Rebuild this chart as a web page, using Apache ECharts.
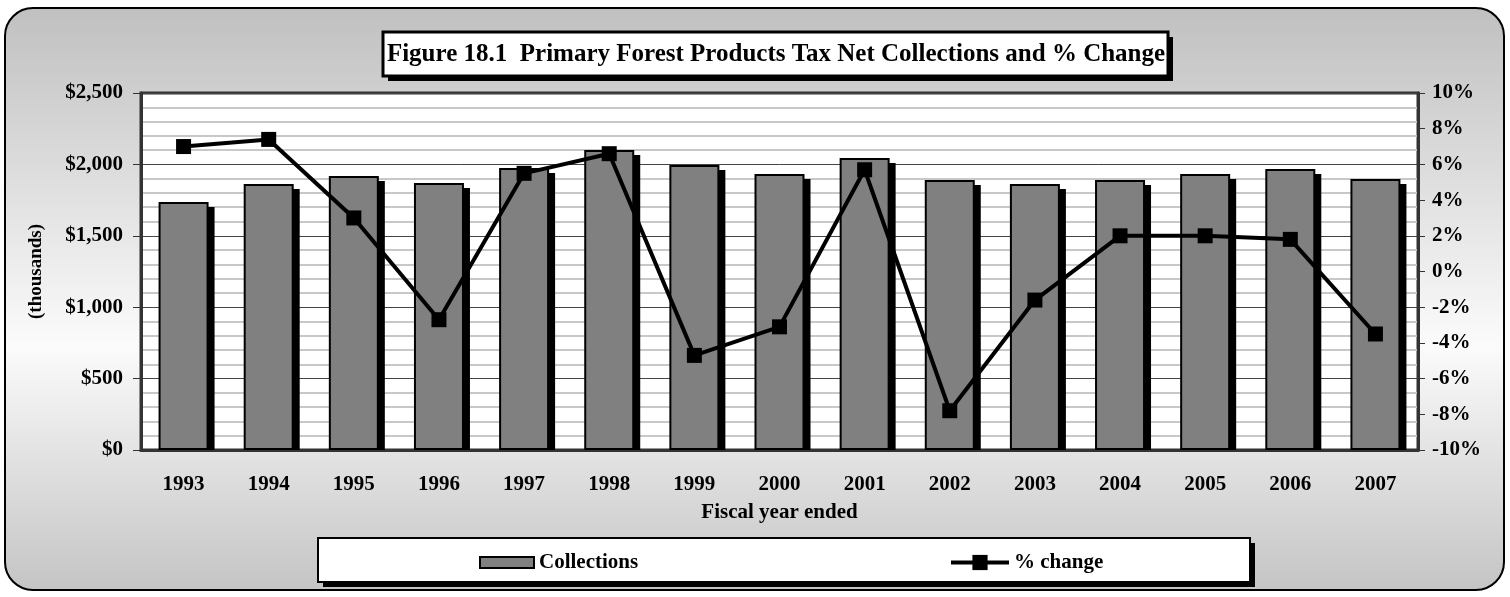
<!DOCTYPE html>
<html>
<head>
<meta charset="utf-8">
<script src="https://cdn.jsdelivr.net/npm/echarts@6/dist/echarts.min.js"></script>
<style>
  html, body { margin: 0; padding: 0; background: #fff; }
  #chart { width: 1510px; height: 597px; }
</style>
</head>
<body>
<div id="chart"></div>
<script>
// data
const years = ['1993', '1994', '1995', '1996', '1997', '1998', '1999', '2000',
  '2001', '2002', '2003', '2004', '2005', '2006', '2007'];
const collections = [1737, 1863, 1919, 1870, 1975, 2100, 1996, 1933,
  2045, 1891, 1863, 1891, 1933, 1968, 1898];
const pctChange = [7.0, 7.4, 3.0, -2.7, 5.5, 6.6, -4.7, -3.1,
  5.7, -7.8, -1.6, 2.0, 2.0, 1.8, -3.5];

const FONT = 'Liberation Serif';
const BAR_W = 50;
const chart = echarts.init(document.getElementById('chart'));

const boxWithShadow = (x, y, w, h, lw) => ([
  { type: 'rect', z: -5, shape: { x: x + 5, y: y + 5, width: w, height: h }, style: { fill: '#000' } },
  { type: 'rect', z: -4, shape: { x: x, y: y, width: w, height: h }, style: { fill: '#fff', stroke: '#000', lineWidth: lw } }
]);

const labelFont = { fontFamily: FONT, fontWeight: 'bold', fontSize: 21, color: '#000' };

chart.setOption({
  animation: false,
  graphic: [
    {
      type: 'rect', z: -10,
      shape: { x: 5, y: 8, width: 1499, height: 582, r: 28 },
      style: {
        stroke: '#000', lineWidth: 2,
        fill: new echarts.graphic.LinearGradient(0, 0, 0, 1, [
          { offset: 0, color: '#c0c0c0' },
          { offset: 0.58, color: '#fbfbfb' },
          { offset: 1, color: '#c4c4c4' }
        ])
      }
    },
    ...boxWithShadow(383, 32, 785, 44, 3),
    {
      type: 'text', z: -3, x: 776, y: 55,
      style: {
        text: 'Figure 18.1  Primary Forest Products Tax Net Collections and % Change',
        font: 'bold 25px "Liberation Serif"', fill: '#000', align: 'center', verticalAlign: 'middle'
      }
    },
    ...boxWithShadow(318, 538, 932, 44, 2)
  ],
  legend: [
    {
      data: [{ name: 'Collections', icon: 'rect', itemStyle: { borderColor: '#000', borderWidth: 2 } }],
      left: 474, top: 547, itemWidth: 54, itemHeight: 11, itemGap: 6,
      textStyle: labelFont
    },
    {
      data: ['% change'], left: 944, top: 547, itemWidth: 58, itemHeight: 19,
      lineStyle: { width: 4 },
      textStyle: labelFont
    }
  ],
  grid: {
    left: 141, top: 93, width: 1277, height: 357,
    show: true, backgroundColor: '#fff', borderColor: '#333', borderWidth: 3
  },
  xAxis: {
    type: 'category', data: years,
    name: 'Fiscal year ended', nameLocation: 'middle', nameGap: 52,
    nameTextStyle: labelFont,
    axisLine: { lineStyle: { color: '#333', width: 3 } },
    axisTick: { length: 7, lineStyle: { color: '#333' } },
    axisLabel: Object.assign({ margin: 24 }, labelFont)
  },
  yAxis: [
    {
      type: 'value', min: 0, max: 2500, interval: 500,
      name: '(thousands)', nameLocation: 'middle', nameGap: 95, nameRotate: 90,
      nameTextStyle: Object.assign({}, labelFont, { fontSize: 19 }),
      axisLine: { show: true, lineStyle: { color: '#333', width: 3 } },
      axisTick: { show: true, length: 8, lineStyle: { color: '#333' } },
      axisLabel: Object.assign({ margin: 18, formatter: v => '$' + v.toLocaleString('en-US') }, labelFont),
      splitLine: { show: true, lineStyle: { color: '#444', width: 1 } },
      minorTick: { show: false, splitNumber: 5 },
      minorSplitLine: { show: true, lineStyle: { color: '#c8c8c8', width: 2 } }
    },
    {
      type: 'value', min: -10, max: 10, interval: 2,
      axisLine: { show: true, lineStyle: { color: '#333', width: 3 } },
      axisTick: { show: true, length: 7, lineStyle: { color: '#333' } },
      axisLabel: Object.assign({ margin: 14, formatter: v => v + '%' }, labelFont),
      splitLine: { show: false }
    }
  ],
  series: [
    {
      // drop shadow behind each bar, from the bar top down to the axis
      name: 'shadow', type: 'custom', data: collections.map((v, i) => [i, v]),
      z: 1, silent: true,
      renderItem: (params, api) => {
        const top = api.coord([api.value(0), api.value(1)]);
        const base = api.coord([api.value(0), 0]);
        return {
          type: 'rect',
          shape: { x: top[0] - BAR_W / 2 + 6, y: top[1] + 5, width: BAR_W, height: base[1] - top[1] - 5 },
          style: { fill: '#000' }
        };
      }
    },
    {
      name: 'Collections', type: 'bar', data: collections, barWidth: BAR_W, z: 2,
      itemStyle: { color: '#808080', borderColor: '#000', borderWidth: 2 }
    },
    {
      name: '% change', type: 'line', yAxisIndex: 1, data: pctChange,
      symbol: 'rect', symbolSize: 15,
      lineStyle: { color: '#000', width: 4 },
      itemStyle: { color: '#000' },
      z: 5
    }
  ]
});
</script>
</body>
</html>
